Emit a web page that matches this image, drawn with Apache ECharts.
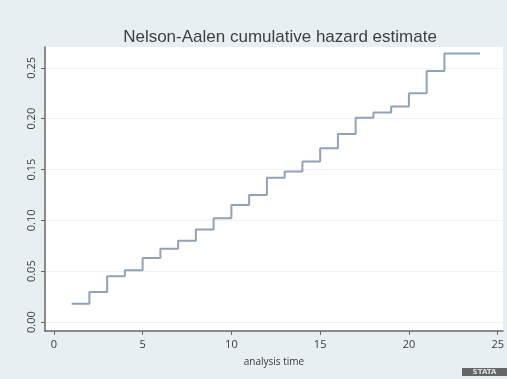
<!DOCTYPE html>
<html>
<head>
<meta charset="utf-8">
<script src="https://cdn.jsdelivr.net/npm/echarts@6/dist/echarts.min.js"></script>
<style>
  html, body { margin: 0; padding: 0; background: #e8eff2; }
  #chart { width: 507px; height: 379px; }
</style>
</head>
<body>
<div id="chart"></div>
<script>
// step times and Nelson-Aalen estimates
const times = [1, 2, 3, 4, 5, 6, 7, 8, 9, 10, 11, 12, 13, 14, 15, 16, 17, 18, 19, 20, 21, 22, 24];
const hazard = [0.018, 0.0295, 0.045, 0.051, 0.063, 0.072, 0.080, 0.091, 0.102, 0.115, 0.125,
  0.142, 0.148, 0.158, 0.171, 0.185, 0.201, 0.206, 0.212, 0.225, 0.247, 0.264, 0.264];
const xTicks = [0, 5, 10, 15, 20, 25];
const yTicks = [0, 0.05, 0.10, 0.15, 0.20, 0.25];

const chart = echarts.init(document.getElementById("chart"));

const textColor = "#3a3a3a";

chart.setOption({
  backgroundColor: "#e8eff2",
  animation: false,
  title: {
    text: "Nelson-Aalen cumulative hazard estimate",
    left: 275,
    textAlign: "center",
    top: 24,
    textStyle: { fontFamily: "Liberation Sans", fontSize: 17, fontWeight: "normal", color: "#3a3f45" }
  },
  grid: { left: 45, right: 4, top: 47, bottom: 48, show: true, backgroundColor: "#fff", borderWidth: 0 },
  xAxis: {
    type: "value",
    min: -0.5,
    max: 25.3,
    name: "analysis time",
    nameLocation: "middle",
    nameGap: 26,
    nameTextStyle: { fontFamily: "Open Sans", fontSize: 10, color: textColor },
    axisLine: { show: true, onZero: false, lineStyle: { color: "#666", width: 1.5 } },
    axisTick: { show: true, length: 4, customValues: xTicks, lineStyle: { color: "#666" } },
    axisLabel: { customValues: xTicks, fontFamily: "Open Sans", fontSize: 11, color: textColor, margin: 8 },
    splitLine: { show: false }
  },
  yAxis: {
    type: "value",
    min: -0.0088,
    max: 0.2705,
    axisLine: { show: true, onZero: false, lineStyle: { color: "#666", width: 1.5 } },
    axisTick: { show: true, length: 4, customValues: yTicks, lineStyle: { color: "#666" } },
    axisLabel: {
      customValues: yTicks,
      rotate: 90,
      fontFamily: "Open Sans",
      fontSize: 11,
      color: textColor,
      margin: 8,
      formatter: v => v.toFixed(2)
    },
    splitLine: { show: true, lineStyle: { color: "#eef3f5", width: 1 } }
  },
  graphic: [{
    type: "group",
    right: 0,
    bottom: 3,
    children: [
      { type: "rect", shape: { x: 0, y: 0, width: 45, height: 8 }, style: { fill: "#666" } },
      { type: "text", x: 22.5, y: 4, style: { text: "STATA", fill: "#ddd", fontSize: 7, fontWeight: "bold", align: "center", verticalAlign: "middle", fontFamily: "DejaVu Sans" } }
    ]
  }],
  series: [{
    type: "line",
    step: "end",
    showSymbol: false,
    lineStyle: { color: "#8fa3b8", width: 2 },
    data: times.map((t, i) => [t, hazard[i]])
  }]
});

window.addEventListener("resize", () => chart.resize());
</script>
</body>
</html>
